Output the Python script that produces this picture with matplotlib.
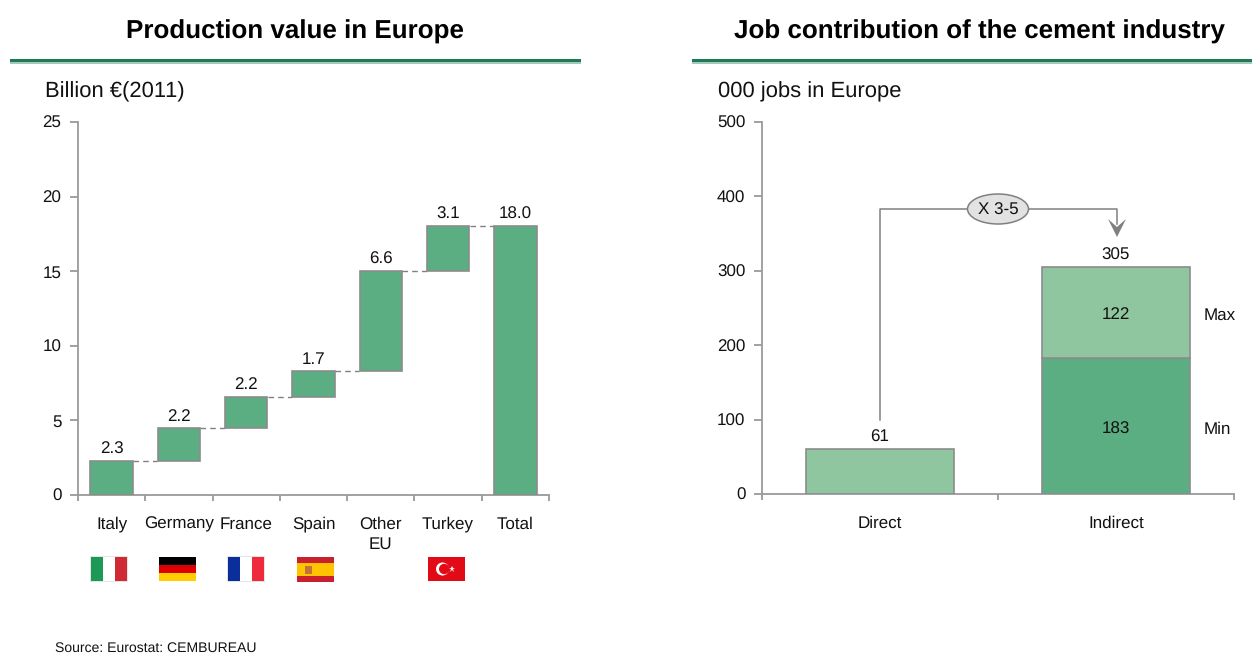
import matplotlib
matplotlib.use("Agg")
import matplotlib.pyplot as plt
from matplotlib.patches import Ellipse, Polygon, Rectangle, Circle

plt.rcParams["font.family"] = ["Liberation Sans", "DejaVu Sans"]
plt.rcParams["text.hinting"] = "no_hinting"
plt.rcParams["text.hinting_factor"] = 1

W, H = 1252, 655

# left chart
paises = ["Italy", "Germany", "France", "Spain", "Other\nEU", "Turkey", "Total"]
tops = [2.3, 4.5, 6.6, 8.3, 15.0, 18.0, 18.0]
bottoms = [0, 2.3, 4.5, 6.6, 8.3, 15.0, 0]
labels_prod = ["2.3", "2.2", "2.2", "1.7", "6.6", "3.1", "18.0"]
yticks_prod = [0, 5, 10, 15, 20, 25]

# right chart
tipos = ["Direct", "Indirect"]
direct_jobs = [61, 183]
max_jobs = [0, 122]
total_jobs = [61, 305]
yticks_jobs = [0, 100, 200, 300, 400, 500]

VERDE = "#5bae82"
VERDE_CLARO = "#8fc6a0"
GRIS = "#8c8c8c"
TEXTO = "#111111"
FS = 12.4


def ejes(fig, x0, x1, y_top, y_bot):
    ax = fig.add_axes([x0 / W, 1 - y_bot / H, (x1 - x0) / W, (y_bot - y_top) / H])
    ax.spines["top"].set_visible(False)
    ax.spines["right"].set_visible(False)
    for s in ["left", "bottom"]:
        ax.spines[s].set_color("#9a9a9a")
        ax.spines[s].set_linewidth(1.3)
    ax.tick_params(axis="y", which="major", length=6, width=1.3, color="#9a9a9a",
                   labelsize=FS, labelcolor=TEXTO, pad=6)
    ax.tick_params(axis="x", which="major", length=4.5, width=1.3, color="#9a9a9a",
                   labelbottom=False)
    ax.tick_params(axis="x", which="minor", length=0, labelsize=FS,
                   labelcolor=TEXTO, pad=15.5)
    ax.patch.set_alpha(0)
    return ax


fig = plt.figure(figsize=(W / 100, H / 100), dpi=100, facecolor="white")

# --- Production value ---
ax1 = ejes(fig, 78, 549, 122, 495)
x1 = list(range(len(paises)))
alturas = [t - b for t, b in zip(tops, bottoms)]
ax1.bar(x1, alturas, bottom=bottoms, width=0.63, color=VERDE, edgecolor=GRIS, linewidth=1.2, zorder=3)
for i in range(len(paises) - 1):
    ax1.plot([i + 0.32, i + 0.68], [tops[i], tops[i]], color="#808080", lw=1,
             dashes=(4, 3), zorder=2)
for i, t in enumerate(labels_prod):
    ax1.text(i, tops[i] + 0.24, t, ha="center", va="bottom", fontsize=FS, color=TEXTO)
ax1.set_xlim(-0.5, 6.5)
ax1.set_ylim(0, 25)
ax1.set_yticks(yticks_prod)
ax1.set_xticks([i - 0.5 for i in range(8)])
ax1.set_xticks(x1, paises, minor=True)
for lab in ax1.get_xticklabels(minor=True):
    lab.set_linespacing(1.35)

# --- Jobs ---
ax2 = ejes(fig, 762, 1234, 122, 494)
x2 = [0, 1]
ax2.bar(x2, direct_jobs, width=0.63, color=[VERDE_CLARO, VERDE], edgecolor=GRIS, linewidth=1.2, zorder=3)
ax2.bar(x2[1], max_jobs[1], bottom=direct_jobs[1], width=0.63, color=VERDE_CLARO,
        edgecolor=GRIS, linewidth=1.2, zorder=3)
for i, t in enumerate(total_jobs):
    ax2.text(i, t + 5, str(t), ha="center", va="bottom", fontsize=FS, color=TEXTO)
ax2.text(1, direct_jobs[1] / 2 - 5, str(direct_jobs[1]), ha="center", va="center", fontsize=FS, color=TEXTO, zorder=4)
ax2.text(1, direct_jobs[1] + max_jobs[1] / 2 - 3, str(max_jobs[1]), ha="center", va="center", fontsize=FS, color=TEXTO, zorder=4)
ax2.text(1.37, direct_jobs[1] + max_jobs[1] / 2 - 4, "Max", ha="left", va="center", fontsize=FS, color=TEXTO)
ax2.text(1.37, direct_jobs[1] / 2 - 5, "Min", ha="left", va="center", fontsize=FS, color=TEXTO)
ax2.set_xlim(-0.5, 1.5)
ax2.set_ylim(0, 500)
ax2.set_yticks(yticks_jobs)
ax2.set_xticks([-0.5, 0.5, 1.5])
ax2.set_xticks(x2, tipos, minor=True)

# capa en pixeles para titulos, banderas y flecha
ov = fig.add_axes([0, 0, 1, 1], zorder=5)
ov.set_xlim(0, W)
ov.set_ylim(H, 0)
ov.axis("off")
ov.patch.set_alpha(0)

ov.text(295, 31.5, "Production value in Europe", ha="center", va="center",
        fontsize=19, fontweight="bold", color="black")
ov.text(979, 31.5, "Job contribution of the cement industry", ha="center", va="center",
        fontsize=19, fontweight="bold", color="black")
for a, b in [(10, 581), (692, 1252)]:
    ov.add_patch(Rectangle((a, 59.3), b - a, 3, color="#1d7a58", lw=0))
    ov.add_patch(Rectangle((a, 62.3), b - a, 1.7, color="#a5c9b8", lw=0))

ov.text(45, 92, "Billion €(2011)", ha="left", va="center", fontsize=15.6, color=TEXTO)
ov.text(718, 92, "000 jobs in Europe", ha="left", va="center", fontsize=15.6, color=TEXTO)
ov.text(55, 648.5, "Source: Eurostat: CEMBUREAU", ha="left", va="center", fontsize=10.2, color=TEXTO)


# conector X 3-5
ov.plot([880, 880, 1117, 1117], [420, 209, 209, 224], color="#808080", lw=1.1, zorder=6)
ov.add_patch(Polygon([(1108, 219), (1117, 227), (1126, 219), (1117, 237)],
                     closed=True, color="#808080", lw=0, zorder=7))
ov.add_patch(Ellipse((998, 209), 61, 30, facecolor="#e2e2e2", edgecolor="#808080", lw=1.1, zorder=8))
ov.text(998, 210, "X 3-5", ha="center", va="center", fontsize=FS, color=TEXTO, zorder=9)


# banderas
def vertical(x, colores, y=557, h=24, w=36):
    ov.add_patch(Rectangle((x - 0.7, y - 0.7), w + 1.4, h + 1.4, color="#e4e4e4", lw=0))
    for i, c in enumerate(colores):
        ov.add_patch(Rectangle((x + i * w / 3, y), w / 3, h, color=c, lw=0))


def horizontal(x, colores, alto, y=557, w=37):
    for c, h in zip(colores, alto):
        ov.add_patch(Rectangle((x, y), w, h, color=c, lw=0))
        y += h


vertical(91, ["#1c9a55", "#ffffff", "#cf2b37"])
horizontal(159, ["#000000", "#dd0000", "#ffce00"], [8, 8, 7.5])
vertical(228, ["#0a2f9c", "#ffffff", "#ee2a3c"])
horizontal(297, ["#c8202c", "#ffc400", "#c8202c"], [6, 12.5, 6])
ov.add_patch(Rectangle((305, 566), 7, 7.5, color="#c4703a", lw=0))
ov.add_patch(Rectangle((428, 557), 37, 24, color="#e30a17", lw=0))
ov.add_patch(Circle((442.5, 569), 6.5, color="white", lw=0))
ov.add_patch(Circle((444.2, 569), 5.2, color="#e30a17", lw=0))
ov.plot([451.5], [569], marker="*", ms=5, color="white", mew=0)

fig.savefig("out.png", dpi=100)
